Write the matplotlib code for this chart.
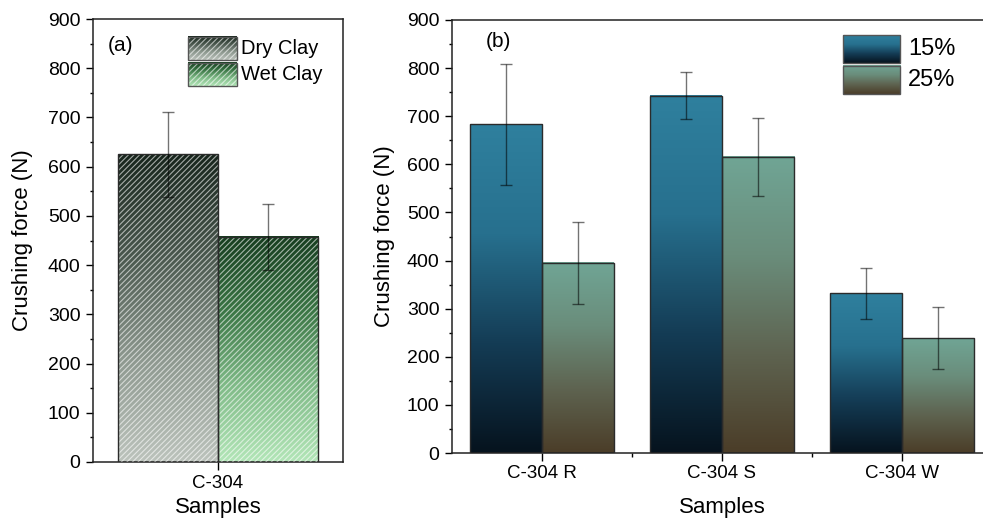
import matplotlib

matplotlib.use("Agg")
import matplotlib.pyplot as plt
import numpy as np
from matplotlib.colors import LinearSegmentedColormap
from matplotlib.patches import Rectangle
from matplotlib.ticker import FixedLocator, MultipleLocator

# panel (a)
clay_sample = ["C-304"]
clay_labels = ["Dry Clay", "Wet Clay"]
dry_force = [625]
dry_err = [86]
wet_force = [458]
wet_err = [67]

# panel (b)
samples = ["C-304 R", "C-304 S", "C-304 W"]
conc_labels = ["15%", "25%"]
force_15 = [683, 743, 332]
err_15 = [125, 48, 53]
force_25 = [395, 616, 239]
err_25 = [85, 81, 64]

plt.rcParams.update({
    "font.family": ["Liberation Sans", "DejaVu Sans"],
    "axes.linewidth": 1.1,
    "axes.edgecolor": "#222222",
    "hatch.linewidth": 0.8,
})

CM_DRY = LinearSegmentedColormap.from_list("dry", ["#bcc3bc", "#8d988f", "#4a584e", "#17251c"])
CM_WET = LinearSegmentedColormap.from_list("wet", ["#b3e6b8", "#80bb88", "#3a7645", "#163d1f"])
CM_15 = LinearSegmentedColormap.from_list("c15", ["#06131e", "#143c55", "#27708e", "#2f809e"])
CM_25 = LinearSegmentedColormap.from_list("c25", ["#4b3d28", "#5e6350", "#6a8d7b", "#70a595"])

GRAD = np.linspace(0, 1, 256).reshape(-1, 1)
EDGE = "#2b2b2b"
ERR = (0, 0, 0, 0.55)
HATCH = "/" * 6
HATCH_COLOR = (1, 1, 1, 0.6)


def gradient_bars(ax, x, heights, width, cmap, hatch=None):
    bars = ax.bar(x, heights, width, facecolor="none", edgecolor=EDGE, linewidth=1.0, zorder=4)
    for p in bars:
        x0, y0 = p.get_xy()
        ax.imshow(GRAD, extent=[x0, x0 + p.get_width(), y0, y0 + p.get_height()],
                  cmap=cmap, aspect="auto", origin="lower", zorder=2, interpolation="bilinear")
    if hatch:
        ax.bar(x, heights, width, facecolor="none", edgecolor=HATCH_COLOR,
               linewidth=0, hatch=hatch, zorder=3)
    return bars


def legend_box(ax, x0, x1, y0, y1, cmap, label, fs, hatch=None):
    ax.imshow(GRAD, extent=[x0, x1, y0, y1], transform=ax.transAxes, cmap=cmap,
              aspect="auto", origin="lower", zorder=6, interpolation="bilinear")
    if hatch:
        ax.add_patch(Rectangle((x0, y0), x1 - x0, y1 - y0, transform=ax.transAxes,
                               facecolor="none", edgecolor=HATCH_COLOR, linewidth=0,
                               hatch=hatch, zorder=7))
    ax.add_patch(Rectangle((x0, y0), x1 - x0, y1 - y0, transform=ax.transAxes,
                           facecolor="none", edgecolor="#555555", linewidth=1.0, zorder=8))
    ax.text(x1 + 0.015, (y0 + y1) / 2, label, transform=ax.transAxes, fontsize=fs,
            va="center", ha="left", zorder=8)


def style_axes(ax):
    ax.tick_params(axis="y", which="major", direction="out", length=5, width=1.0, labelsize=14, pad=4)
    ax.tick_params(axis="y", which="minor", direction="out", length=2.5, width=1.0)
    ax.tick_params(axis="x", which="major", direction="out", length=6, width=1.0, labelsize=13.5, pad=3)
    ax.tick_params(axis="x", which="minor", direction="out", length=3, width=1.0)
    ax.set_ylim(0, 900)
    ax.yaxis.set_major_locator(MultipleLocator(100))
    ax.yaxis.set_minor_locator(MultipleLocator(50))


fig = plt.figure(figsize=(9.83, 5.25), dpi=100)

# (a)
ax1 = fig.add_axes([93 / 983, 63 / 525, 250 / 983, 443 / 525])
xa = np.arange(1, len(clay_sample) + 1)
w = 0.4
gradient_bars(ax1, xa - w / 2, dry_force, w, CM_DRY, hatch=HATCH)
gradient_bars(ax1, xa + w / 2, wet_force, w, CM_WET, hatch=HATCH)
ax1.errorbar(xa - w / 2, dry_force, yerr=dry_err, fmt="none", ecolor=ERR,
             elinewidth=1.0, capsize=4, capthick=1.0, zorder=5)
ax1.errorbar(xa + w / 2, wet_force, yerr=wet_err, fmt="none", ecolor=ERR,
             elinewidth=1.0, capsize=4, capthick=1.0, zorder=5)
style_axes(ax1)
ax1.set_xticks(xa)
ax1.set_xticklabels(clay_sample)
ax1.set_ylabel("Crushing force (N)", fontsize=16)
ax1.yaxis.set_label_coords(-0.24, 0.5)
ax1.set_xlabel("Samples", fontsize=16)
ax1.xaxis.set_label_coords(0.5, -0.078)
ax1.text(0.06, 0.94, "(a)", transform=ax1.transAxes, fontsize=15, va="center", ha="left")
legend_box(ax1, 0.38, 0.576, 0.907, 0.959, CM_DRY, clay_labels[0], 14.5, hatch=HATCH)
legend_box(ax1, 0.38, 0.576, 0.849, 0.901, CM_WET, clay_labels[1], 14.5, hatch=HATCH)
ax1.set_xlim(0.5, len(clay_sample) + 0.5)
ax1.set_ylim(0, 900)

# (b)
ax2 = fig.add_axes([452 / 983, 72 / 525, 540 / 983, 433 / 525])
xb = np.arange(1, len(samples) + 1)
gradient_bars(ax2, xb - w / 2, force_15, w, CM_15)
gradient_bars(ax2, xb + w / 2, force_25, w, CM_25)
ax2.errorbar(xb - w / 2, force_15, yerr=err_15, fmt="none", ecolor=ERR,
             elinewidth=1.0, capsize=4, capthick=1.0, zorder=5)
ax2.errorbar(xb + w / 2, force_25, yerr=err_25, fmt="none", ecolor=ERR,
             elinewidth=1.0, capsize=4, capthick=1.0, zorder=5)
style_axes(ax2)
ax2.set_xticks(xb)
ax2.set_xticklabels(samples)
ax2.xaxis.set_minor_locator(FixedLocator(xb[:-1] + 0.5))
ax2.set_ylabel("Crushing force (N)", fontsize=16)
ax2.yaxis.set_label_coords(-0.105, 0.5)
ax2.set_xlabel("Samples", fontsize=16)
ax2.xaxis.set_label_coords(0.5, -0.102)
ax2.text(0.063, 0.95, "(b)", transform=ax2.transAxes, fontsize=15, va="center", ha="left")
legend_box(ax2, 0.724, 0.83, 0.901, 0.965, CM_15, conc_labels[0], 17)
legend_box(ax2, 0.724, 0.83, 0.829, 0.894, CM_25, conc_labels[1], 17)
ax2.set_xlim(0.5, len(samples) + 0.5)
ax2.set_ylim(0, 900)

fig.savefig("out.png", dpi=100)
